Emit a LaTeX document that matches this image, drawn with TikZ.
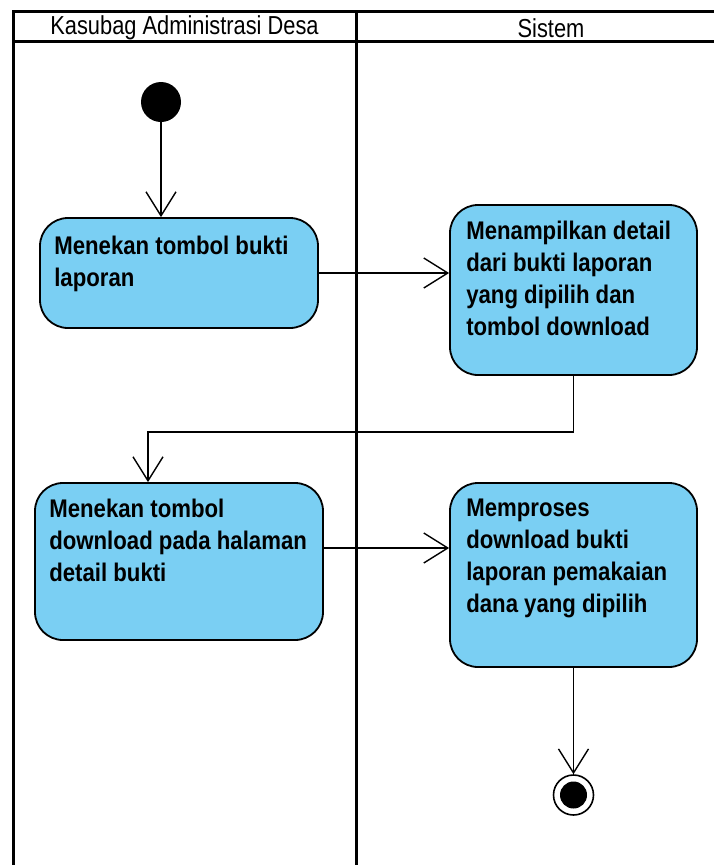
\documentclass[tikz,border=0pt]{standalone}
\usepackage{fontspec}
\setmainfont{Liberation Sans}[FakeStretch=0.84]
\newfontfamily\boxfont{Liberation Sans}[FakeStretch=0.87]
\usetikzlibrary{arrows.meta}
\definecolor{actblue}{RGB}{122,207,243}
\tikzset{
  lane/.style={line width=3pt, black},
  act/.style={draw=black, line width=1.8pt, fill=actblue, rounded corners=28pt, inner sep=0pt},
  acttext/.style={anchor=north west, inner sep=0pt, align=left, font=\boxfont\bfseries\fontsize{25.5}{32}\selectfont},
  head/.style={inner sep=0pt, font=\fontsize{26}{30}\selectfont},
  flow/.style={line width=1.4pt, -{Straight Barb[length=24pt,width=30pt,line width=1.4pt]}},
}
\begin{document}
\begin{tikzpicture}[x=1pt,y=-1pt]
\useasboundingbox (0,0) rectangle (714,865);
% swimlanes
\draw[lane] (760,11) -- (13,11) -- (13,880);
\draw[lane] (13,41) -- (760,41);
\draw[lane] (356,11) -- (356,880);
\node[head] (h1) at (184.5,28) {Kasubag Administrasi Desa};
\node[head] (h2) at (551,28) {Sistem};
% initial node
\node[circle, fill=black, minimum size=40pt, inner sep=0pt] (init) at (161,102) {};
% activities
\node[act, minimum width=278pt, minimum height=110pt] (b1) at (179,273) {};
\node[acttext] (t1) at ([shift={(15pt,-19pt)}]b1.north west) {Menekan tombol bukti\\laporan};
\node[act, minimum width=247pt, minimum height=170pt] (b2) at (573.5,290) {};
\node[acttext] (t2) at ([shift={(17pt,-17pt)}]b2.north west) {Menampilkan detail\\dari bukti laporan\\yang dipilih dan\\tombol download};
\node[act, minimum width=288pt, minimum height=157pt] (b3) at (179,561.5) {};
\node[acttext] (t3) at ([shift={(15pt,-17pt)}]b3.north west) {Menekan tombol\\download pada halaman\\detail bukti};
\node[act, minimum width=247pt, minimum height=184pt] (b4) at (573.5,575) {};
\node[acttext] (t4) at ([shift={(17pt,-17pt)}]b4.north west) {Memproses\\download bukti\\laporan pemakaian\\dana yang dipilih};
% final node
\node[circle, draw=black, line width=1.6pt, fill=white, minimum size=40pt, inner sep=0pt] (fin) at (573.5,795) {};
\node[circle, fill=black, minimum size=27pt, inner sep=0pt] (finin) at (fin.center) {};
% flows
\coordinate (bend) at (148,432);
\draw[flow] (init) -- (b1.north -| init);
\draw[flow] (b1.east) -- (b2.west |- b1.east);
\draw[flow] (b2.south) |- (bend) -- (bend |- b3.north);
\draw[flow] ([yshift=13.5pt]b3.east) -- (b4.west |- 0,548);
\draw[flow] (b4.south) -- (fin.north);
\end{tikzpicture}
\end{document}
